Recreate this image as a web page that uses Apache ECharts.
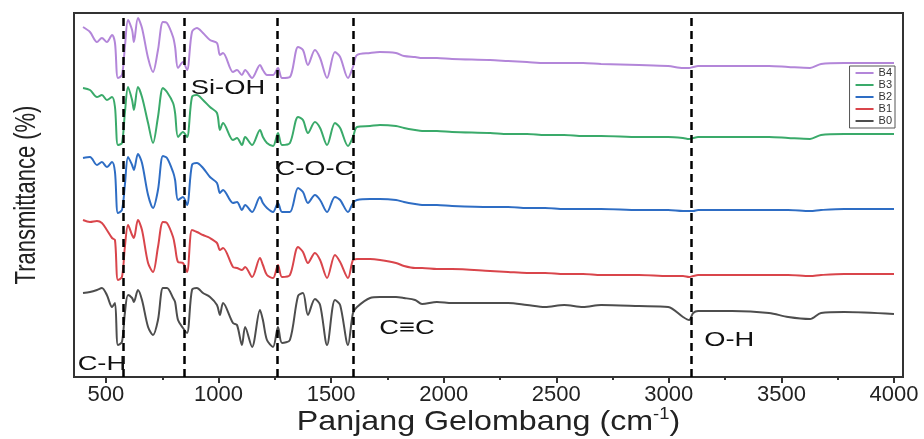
<!DOCTYPE html>
<html><head><meta charset="utf-8">
<script src="https://cdn.jsdelivr.net/npm/echarts@6/dist/echarts.min.js"></script>
<style>html,body{margin:0;padding:0;background:#fff}#c{width:924px;height:439px}</style>
</head><body><div id="c"></div>
<script>
// Wavenumber grid (cm^-1)
const wavenumbers = [398,429,460,482,504,527,540,553,571,584,598,616,624,642,660,687,709,731,753,771,798,807,820,842,860,882,904,931,962,993,1006,1020,1064,1082,1104,1118,1149,1184,1197,1215,1242,1264,1282,1317,1353,1375,1397,1428,1451,1482,1517,1540,1575,1597,1615,1673,1717,1788,1824,1873,1904,1970,2037,2206,2286,2370,2450,2535,2619,2699,2868,2997,3063,3090,3108,3130,3281,3445,3530,3627,3676,3779,4000];
// Offset transmittance (arbitrary units, stacked)
const B4 = [350,345,335,339,335,342,334,299,302,330,357,347,335,359,349,319,305,327,355,354,340,330,309,315,307,345,349,344,337,334,322,324,305,307,302,307,299,312,307,302,302,309,299,300,330,327,312,327,319,299,325,320,299,310,322,324,325,324,321,320,319,319,318,317,316,315,314,314,314,313,312,311,309,309,310,311,311,311,310,309,313,314,314];
const B3 = [289,287,280,282,277,280,270,232,234,264,290,277,267,290,280,254,234,260,289,285,274,264,240,245,240,280,282,277,270,264,247,254,237,239,232,240,232,247,240,234,231,244,232,234,260,257,244,255,249,232,254,249,231,240,250,251,252,251,249,247,246,246,245,244,243,243,242,242,241,241,240,240,239,238,239,240,240,240,239,238,242,243,243];
const B2 = [219,220,212,215,210,215,205,164,167,192,220,212,207,223,214,182,169,187,221,219,205,197,177,180,172,212,214,209,200,194,184,187,174,175,167,172,165,180,174,169,165,174,165,165,189,185,174,182,177,165,180,177,165,174,177,178,178,177,175,173,172,172,171,170,170,169,169,168,168,168,167,167,166,166,166,167,167,167,167,166,167,168,168];
const B1 = [157,155,156,154,147,139,137,97,100,130,152,142,139,157,147,114,105,130,155,154,140,130,115,114,105,147,145,142,139,134,127,129,110,109,107,110,100,119,112,102,99,112,100,102,130,125,114,124,117,99,122,115,99,117,118,118,117,114,111,109,109,108,108,106,105,104,104,103,103,102,102,101,101,100,101,102,102,102,102,101,102,103,103];
const B0 = [84,85,87,89,82,70,74,32,35,64,82,79,75,87,77,50,42,57,89,89,79,75,57,49,44,87,89,84,80,72,62,74,54,52,32,50,30,67,57,37,30,50,34,37,81,84,62,78,72,32,77,72,32,64,70,79,80,80,79,77,73,75,74,74,74,72,70,72,70,72,71,70,60,57,64,66,66,64,60,58,64,65,63];

const seriesNames = ['B4','B3','B2','B1','B0'];
const seriesValues = {B4, B3, B2, B1, B0};
const seriesColors = {B4:'#b386d9', B3:'#3aaa6a', B2:'#2e6dc4', B1:'#d9454b', B0:'#4d4d4d'};
const xTicks = [500,1000,1500,2000,2500,3000,3500,4000];
const xMinorTicks = [750,1250,1750,2250,2750,3250,3750];
const bandLines = [575,846,1262,1597,3100];
const annotationLabels = ['C-H','Si-OH','C-O-C','C\u2261C','O-H'];
const annotationWavenumbers = [482,1042,1428,1837,3268];
const annotationLevels = [13,289,208,49,37];

const FONT = 'Liberation Sans, Arial, sans-serif';
const chart = echarts.init(document.getElementById('c'), null, {renderer:'canvas'});

const lineSeries = seriesNames.map((name, i) => ({
  name, type:'line', symbol:'none', showSymbol:false, smooth:0.3,
  data: wavenumbers.map((w, k) => [w, seriesValues[name][k]]),
  lineStyle:{color:seriesColors[name], width:2}, itemStyle:{color:seriesColors[name]},
  z: 2,
  markLine: i === 0 ? {
    silent:true, symbol:'none', label:{show:false}, animation:false,
    lineStyle:{color:'#000', width:2.5, type:[8,5]},
    data: bandLines.map(v => ({xAxis:v}))
  } : undefined
}));

chart.setOption({
  animation:false,
  backgroundColor:'#fff',
  grid:{left:74, right:21, top:13, bottom:62, show:true, borderColor:'#333', borderWidth:2, backgroundColor:'rgba(0,0,0,0)'},
  legend:{
    data:seriesNames, orient:'vertical', right:29, top:66,
    icon:'rect', itemWidth:18, itemHeight:2, itemGap:0, padding:[1,3,1,6],
    borderColor:'#555', borderWidth:1, backgroundColor:'#fff',
    textStyle:{fontSize:11, lineHeight:12, color:'#333', fontFamily:FONT}
  },
  xAxis:[{
    type:'value', min:358, max:4040,
    axisLine:{show:true, lineStyle:{color:'#333', width:2}},
    axisTick:{show:true, customValues:xTicks, length:6, lineStyle:{color:'#333', width:2}},
    axisLabel:{customValues:xTicks, formatter:v => String(v), fontSize:22, color:'#222', margin:7, fontFamily:FONT},
    splitLine:{show:false}
  },{
    type:'value', min:358, max:4040, position:'bottom',
    axisLine:{show:false},
    axisTick:{show:true, customValues:xMinorTicks, length:3, lineStyle:{color:'#333', width:2}},
    axisLabel:{show:false}, splitLine:{show:false}
  }],
  yAxis:{type:'value', min:0, max:364, axisLabel:{show:false}, axisTick:{show:false}, splitLine:{show:false},
    axisLine:{show:true, lineStyle:{color:'#333', width:2}}},
  series:lineSeries
});

// Text placed through the chart's own coordinate conversion
const annotationTexts = annotationLabels.map((t, k) => {
  const p = chart.convertToPixel({seriesIndex:0}, [annotationWavenumbers[k], annotationLevels[k]]);
  return {type:'text', x:p[0], y:p[1], scaleX:1.3, z:10,
    style:{text:t, fontSize:21, fill:'#111', fontFamily:FONT, align:'center', verticalAlign:'middle'}};
});
const gridRect = chart.getModel().getComponent('grid').coordinateSystem.getRect();
chart.setOption({
  graphic:[
    {type:'text', x:27, y:gridRect.y + gridRect.height/2, rotation:Math.PI/2, scaleY:1.3,
      style:{text:'Transmittance (%)', fontSize:22, fill:'#222', fontFamily:FONT, align:'center', verticalAlign:'middle'}},
    {type:'text', x:gridRect.x + gridRect.width/2, y:422, scaleX:1.15,
      style:{text:'Panjang Gelombang (cm{sup|-1})', fontSize:28, fill:'#222', fontFamily:FONT, align:'center', verticalAlign:'middle',
        rich:{sup:{fontSize:16, fill:'#222', fontFamily:FONT, padding:[0,0,14,0]}}}},
    ...annotationTexts
  ]
});
</script></body></html>
